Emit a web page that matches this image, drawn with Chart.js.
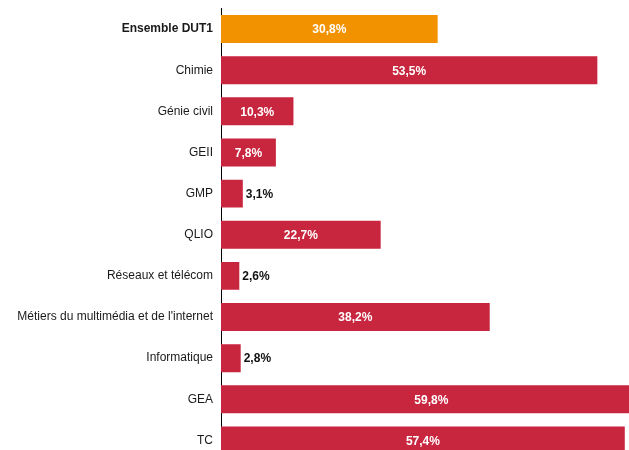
<!DOCTYPE html>
<html>
<head>
<meta charset="utf-8">
<script src="https://cdn.jsdelivr.net/npm/chart.js"></script>
<style>
  html, body { margin: 0; padding: 0; background: #fff; overflow: hidden; }
  canvas { display: block; }
</style>
</head>
<body>
<canvas id="chart" width="629" height="461"></canvas>
<script>
const categories = ['Ensemble DUT1', 'Chimie', 'Génie civil', 'GEII', 'GMP', 'QLIO',
  'Réseaux et télécom', "Métiers du multimédia et de l'internet", 'Informatique', 'GEA', 'TC'];
const rates = [30.8, 53.5, 10.3, 7.8, 3.1, 22.7, 2.6, 38.2, 2.8, 59.8, 57.4];
const barColors = categories.map((c, i) => i === 0 ? '#f39200' : '#c8253e');

const fmt = v => v.toFixed(1).replace('.', ',') + '%';

// value labels: white inside the bar when it fits, black to the right otherwise
const valueLabels = {
  id: 'valueLabels',
  afterDatasetsDraw(chart) {
    const ctx = chart.ctx;
    const meta = chart.getDatasetMeta(0);
    ctx.save();
    ctx.font = 'bold 12px "Liberation Sans", Arial, sans-serif';
    ctx.textBaseline = 'middle';
    meta.data.forEach((bar, i) => {
      const text = fmt(rates[i]);
      const w = ctx.measureText(text).width;
      const barW = bar.x - bar.base;
      if (w + 10 < barW) {
        ctx.fillStyle = '#fff';
        ctx.textAlign = 'center';
        ctx.fillText(text, (bar.x + bar.base) / 2, bar.y + 1);
      } else {
        ctx.fillStyle = '#111';
        ctx.textAlign = 'left';
        ctx.fillText(text, bar.x + 3, bar.y + 1);
      }
    });
    ctx.restore();
  }
};

new Chart(document.getElementById('chart'), {
  type: 'bar',
  data: {
    labels: categories,
    datasets: [{
      data: rates,
      backgroundColor: barColors,
      barPercentage: 0.68,
      categoryPercentage: 1
    }]
  },
  options: {
    indexAxis: 'y',
    responsive: false,
    animation: false,
    layout: { padding: { top: 8.5, left: 0, right: 0, bottom: 0 } },
    plugins: {
      legend: { display: false },
      tooltip: { enabled: false }
    },
    scales: {
      x: {
        display: false,
        min: 0,
        max: 58
      },
      y: {
        grid: { display: false },
        border: { display: true, color: '#000', width: 1 },
        ticks: {
          color: '#1a1a1a',
          padding: 0,
          font: ctx => ({
            family: '"Liberation Sans", Arial, sans-serif',
            size: 12,
            weight: ctx.index === 0 ? 'bold' : 'normal'
          })
        },
        afterFit(scale) {
          scale.width = 221;
          scale.paddingTop = 0;
          scale.paddingBottom = 0;
        }
      }
    }
  },
  plugins: [valueLabels]
});
</script>
</body>
</html>
